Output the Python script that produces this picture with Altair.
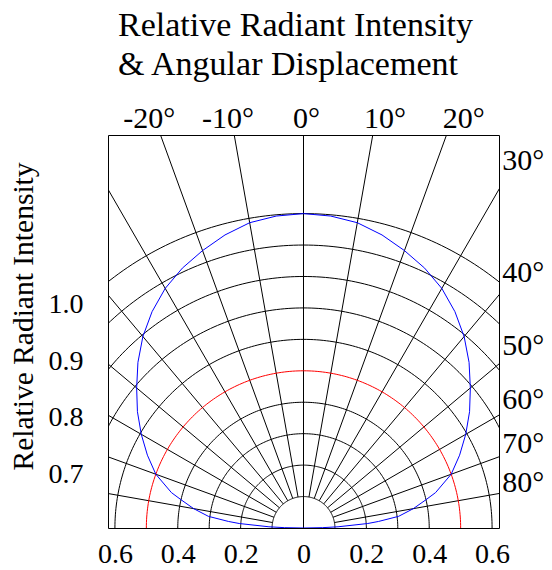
import math
import altair as alt
import pandas as pd

# ---------------- data ----------------
# radiation pattern (blue): half-angle in degrees and relative radiant intensity
blue_angles = [0, 5, 10, 15, 20, 25, 30, 35, 40, 45, 50, 55, 60, 65, 70, 75, 77, 80, 83, 85, 86, 88, 89, 90]
blue_values = [1.0, 0.996, 0.986, 0.965, 0.939, 0.912, 0.880, 0.840, 0.795, 0.745, 0.693, 0.645,
               0.596, 0.548, 0.500, 0.435, 0.400, 0.355, 0.305, 0.240, 0.205, 0.110, 0.060, 0.0]
# red reference ring
red_ring = 0.5
# grid rings and spokes
ring_radii = [0.1, 0.2, 0.3, 0.4, 0.6, 0.7, 0.8, 0.9, 1.0]
spoke_angles = [-80, -70, -60, -50, -40, -30, -20, -10, 0, 10, 20, 30, 40, 50, 60, 70, 80]
# labels
top_angles = [-20, -10, 0, 10, 20]
right_angles = [30, 40, 50, 60, 70, 80]
left_values = [0.7, 0.8, 0.9, 1.0]
bottom_values = [-0.6, -0.4, -0.2, 0, 0.2, 0.4, 0.6]

title_lines = ["Relative Radiant Intensity", "& Angular Displacement"]
left_title = "Relative Radiant Intensity"

FONT = "Liberation Serif"
XMAX = 0.622
YMAX = 1.25
W, H = 391, 393

# ---------------- tables ----------------
def deg(a):
    return math.radians(a)

ring_rows = []
for r in ring_radii:
    for a in range(-90, 91):
        ring_rows.append({"ring": r, "ang": a, "x": r * math.sin(deg(a)), "y": r * math.cos(deg(a))})
rings = pd.DataFrame(ring_rows)

red_rows = [{"ang": a, "x": red_ring * math.sin(deg(a)), "y": red_ring * math.cos(deg(a))}
            for a in range(-90, 91)]
red = pd.DataFrame(red_rows)

spoke_rows = []
for a in spoke_angles:
    r0 = 0.0 if a == 0 else 0.1
    r1 = 2.0
    spoke_rows.append({"x": r0 * math.sin(deg(a)), "y": r0 * math.cos(deg(a)),
                       "x2": r1 * math.sin(deg(a)), "y2": r1 * math.cos(deg(a))})
spokes = pd.DataFrame(spoke_rows)

blue_rows = []
full = [(-a, v) for a, v in zip(blue_angles[::-1], blue_values[::-1])] + \
       [(a, v) for a, v in zip(blue_angles[1:], blue_values[1:])]
for i, (a, v) in enumerate(full):
    blue_rows.append({"i": i, "x": v * math.sin(deg(a)), "y": v * math.cos(deg(a))})
blue = pd.DataFrame(blue_rows)

top_lab = pd.DataFrame({"label": [f"{a}°" for a in top_angles],
                        "x": [a * 0.025 for a in top_angles],
                        "y": [YMAX for _ in top_angles]})
RX = 0.657      # labels sit where each ray crosses this abscissa
RX_TEXT = 0.632  # left edge of the label column
right_lab = pd.DataFrame({"label": [f"{a}°" for a in right_angles],
                          "x": [RX_TEXT for _ in right_angles],
                          "y": [RX / math.tan(deg(a)) for a in right_angles]})
left_df = pd.DataFrame({"v": left_values, "x": [0.0 for _ in left_values]})

# ---------------- encodings ----------------
x_axis = alt.Axis(values=bottom_values, grid=False, ticks=False, tickSize=0, domain=False,
                  labelExpr="datum.value == 0 ? '0' : format(abs(datum.value), '.1f')",
                  labelFont=FONT, labelFontSize=28, labelColor="black", labelPadding=12,
                  labelFlush=False, labelOverlap=False, title=None)
xscale = alt.Scale(domain=[-XMAX, XMAX], nice=False, zero=False)
yscale = alt.Scale(domain=[0, YMAX], nice=False, zero=False)

def X(f):
    return alt.X(f, type="quantitative", scale=xscale, axis=x_axis)

def Y(f):
    return alt.Y(f, type="quantitative", scale=yscale, axis=None)

ring_layer = alt.Chart(rings).mark_line(color="black", strokeWidth=1, clip=True).encode(
    x=X("x"), y=Y("y"), detail="ring:N", order="ang:Q")

spoke_layer = alt.Chart(spokes).mark_rule(color="black", strokeWidth=1, clip=True).encode(
    x=X("x"), y=Y("y"), x2="x2:Q", y2="y2:Q")

red_layer = alt.Chart(red).mark_line(color="#ff0000", strokeWidth=1, clip=True).encode(
    x=X("x"), y=Y("y"), order="ang:Q")

blue_layer = alt.Chart(blue).mark_line(color="#0000ff", strokeWidth=1, clip=True).encode(
    x=X("x"), y=Y("y"), order="i:Q")

top_layer = alt.Chart(top_lab).mark_text(font=FONT, fontSize=30, color="black", align="center",
                                         baseline="alphabetic", dy=-7, dx=3).encode(
    x=X("x"), y=Y("y"), text="label:N")

right_layer = alt.Chart(right_lab).mark_text(font=FONT, fontSize=30, color="black", align="left",
                                             baseline="alphabetic").encode(
    x=X("x"), y=Y("y"), text="label:N")

left_layer = alt.Chart(left_df).mark_point(opacity=0, size=1).encode(
    x=X("x"),
    y=alt.Y("v:Q", scale=alt.Scale(domain=[0.6055, 1.2998], nice=False, zero=False),
            axis=alt.Axis(orient="left", values=left_values, format=".1f", grid=False,
                          ticks=False, tickSize=0, domain=False, labelFont=FONT, labelFontSize=28,
                          labelColor="black", labelPadding=25, labelBaseline="middle",
                          title=left_title, titleFont=FONT, titleFontSize=29.5,
                          titleFontWeight="normal", titleColor="black", titleAngle=270,
                          titleX=-85, titleY=181, titleAlign="center", titleBaseline="middle")))

chart = alt.layer(ring_layer, spoke_layer, red_layer, blue_layer, top_layer, right_layer,
                  left_layer).resolve_scale(y="independent").properties(
    width=W, height=H,
    autosize=alt.AutoSizeParams(type="none"),
    padding={"left": 100, "top": 127, "right": 45, "bottom": 42},
    title=alt.TitleParams(text=title_lines, font=FONT, fontSize=34, fontWeight="normal",
                          color="black", anchor="start", frame="group", dx=10, offset=-12,
                          lineHeight=39, baseline="bottom"),
).configure_view(stroke="black", strokeWidth=1)

chart.save("out.html", embed_options={"renderer": "svg", "actions": False})
